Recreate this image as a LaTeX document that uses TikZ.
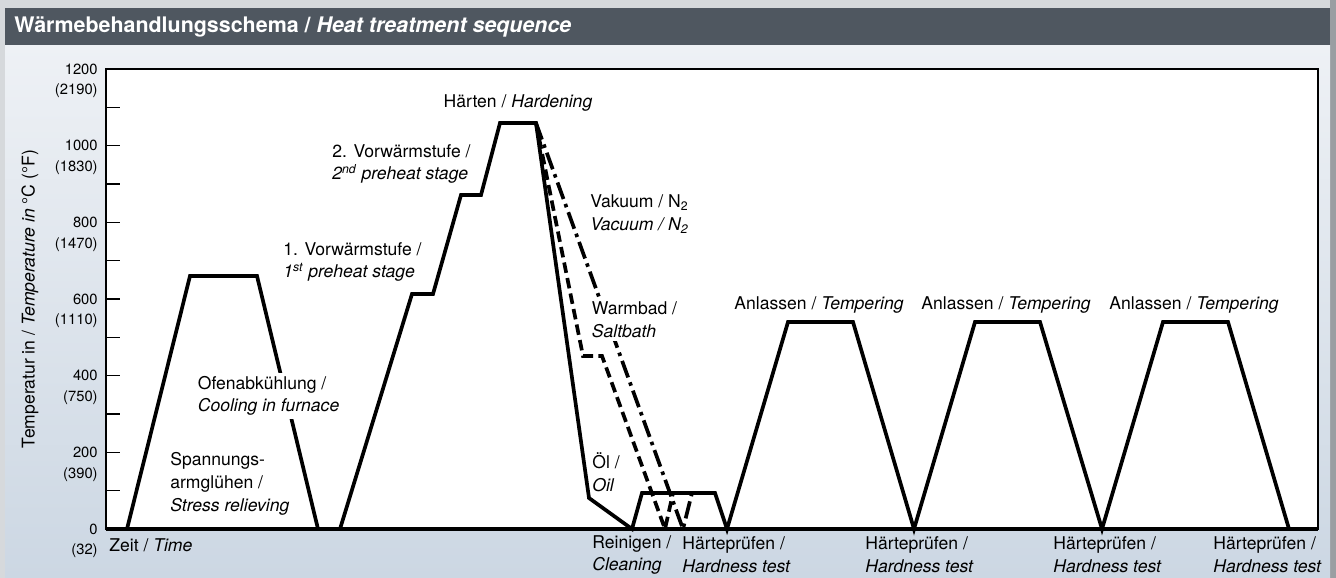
\documentclass[tikz,border=0pt]{standalone}
\usepackage{fontspec}
\setmainfont{TeX Gyre Heros}
\usetikzlibrary{positioning}

\definecolor{bargrey}{HTML}{4F5760}
\definecolor{framegrey}{HTML}{D6D9DC}
\definecolor{edgegrey}{HTML}{9A9EA2}
\definecolor{paneltop}{HTML}{EEF1F5}
\definecolor{panelbot}{HTML}{CCD7E3}

\tikzset{
  curve/.style={line width=2.1pt, line join=miter},
  quenchbath/.style={curve, dash pattern=on 6pt off 3pt},
  quenchgas/.style={curve, dash pattern=on 10pt off 3pt on 2pt off 3pt},
  lbl/.style={font=\fontsize{10}{12.9}\selectfont, inner sep=0pt, align=left, anchor=west},
  ticklbl/.style={font=\fontsize{8.4}{10}\selectfont, inner sep=0pt, anchor=east},
}

\begin{document}
\begin{tikzpicture}[x=0.02cm, y=-0.02cm]
\useasboundingbox (0,0) rectangle (1336,578);
\fill[framegrey] (0,0) rectangle (1336,578);
\fill[edgegrey] (1330,0) rectangle (1336,578);
\shade[top color=paneltop, bottom color=panelbot] (5,45) rectangle (1330,578);
\fill[bargrey] (5,8) rectangle (1330,45);
\node[anchor=west, text=white, inner sep=0pt, font=\fontsize{12.2}{14}\selectfont\bfseries] (title) at (14,27) {Wärmebehandlungsschema / \textit{Heat treatment sequence}};

% plot area
\draw[fill=white, line width=0.8pt] (106,69) rectangle (1318,529);
\foreach \t in {1,...,11}
  \draw[line width=0.8pt] (106,{529-38.333*\t}) -- ++(14,0);
\foreach \c/\f in {0/32,200/390,400/750,600/1110,800/1470,1000/1830,1200/2190} {
  \node[ticklbl] (c\c) at (98,{529-0.38333*\c}) {\c};
  \node[ticklbl] (f\c) at (98,{551-0.38333*\c}) {(\f)};
}
\node[lbl, anchor=center, rotate=90] (ylab) at (30,299) {Temperatur in / \textit{Temperature in} °C (°F)};

% stress relieving
\draw[curve] (127,529) -- (190,276) -- (257,276) -- (318,529);
% hardening, cleaning, tempering
\draw[curve] (340,529) -- (412,294) -- (433,294) -- (461,195) -- (481,195)
  -- (500,123) -- (536,123) -- (589,498) -- (632,529) -- (642,493) -- (715,493)
  -- (727,529) -- (788,322) -- (853,322) -- (914,529) -- (975,322) -- (1040,322)
  -- (1102,529) -- (1163,322) -- (1228,322) -- (1289,529);
\draw[quenchbath] (536,123) -- (583,356) -- (602,356) -- (665,529) -- (673,493);
\draw[quenchgas] (536,123) -- (683,529) -- (692,493);
\draw[line width=2.6pt] (106,529) -- (1318,529);

% labels
\node[lbl, anchor=center] (hard) at (518,103) {Härten / \textit{Hardening}};
\node[lbl] (pre2) at (332,164) {2. Vorwärmstufe /\\\textit{2\textsuperscript{nd} preheat stage}};
\node[lbl] (pre1) at (283,262) {1. Vorwärmstufe /\\\textit{1\textsuperscript{st} preheat stage}};
\node[lbl] (vac) at (590,214) {Vakuum / N\textsubscript{2}\\\textit{Vacuum / N\textsubscript{2}}};
\node[lbl, fill=white, inner sep=2pt] (salt) at (588,320) {Warmbad /\\\textit{Saltbath}};
\node[lbl] (oil) at (592,472) {Öl /\\\textit{Oil}};
\node[lbl, fill=white, inner sep=2pt] (furn) at (194,396) {Ofenabkühlung /\\\textit{Cooling in furnace}};
\node[lbl] (stress) at (170,484) {Spannungs-\\armglühen /\\\textit{Stress relieving}};
\foreach \x [count=\i] in {819,1006,1194}
  \node[lbl, anchor=center] (temper\i) at (\x,305) {Anlassen / \textit{Tempering}};
\node[lbl] (time) at (109,545) {Zeit / \textit{Time}};
\node[lbl] (clean) at (592,555) {Reinigen /\\\textit{Cleaning}};
\foreach \x [count=\i] in {682,865,1053,1213}
  \node[lbl] (test\i) at (\x,555) {Härteprüfen /\\\textit{Hardness test}};
\end{tikzpicture}
\end{document}
